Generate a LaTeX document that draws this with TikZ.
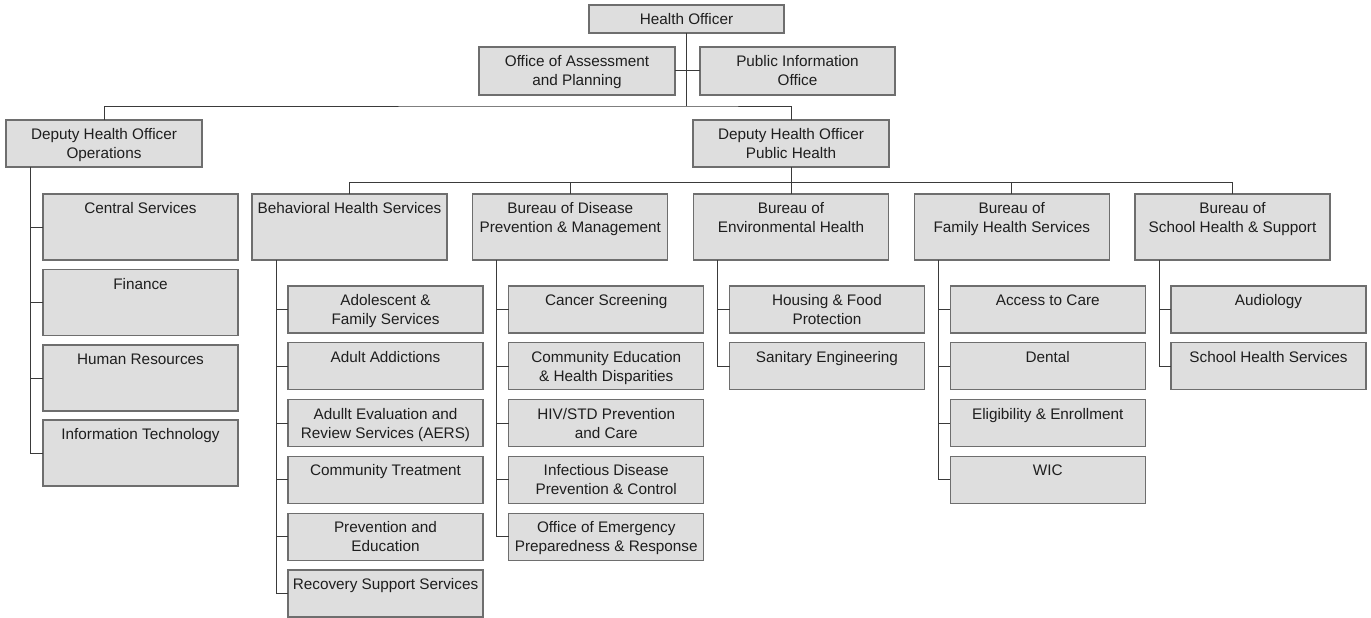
\documentclass[tikz,border=0pt]{standalone}
\usepackage{fontspec}
\setmainfont{Liberation Sans}
\usetikzlibrary{calc}
\definecolor{boxfill}{HTML}{DEDEDE}
\definecolor{boxline}{HTML}{6E6E6E}
\definecolor{conn}{HTML}{3A3A3A}
\definecolor{txt}{HTML}{1E1E1E}
\newcommand\bt[3]{\begin{minipage}[c][#2pt][t]{#1pt}\centering\rule{0pt}{19.5pt}#3\end{minipage}}
\begin{document}
\begin{tikzpicture}[x=1pt,y=-1pt,
  bx/.style={draw=boxline,fill=boxfill,line width=1.2pt,inner sep=0pt,outer sep=0pt,text=txt,font=\fontsize{15.3}{19}\selectfont},
  cn/.style={draw=conn,line width=1pt}]
\useasboundingbox (0,0) rectangle (1371,618);
% top
\node[bx] (ho) at (686.5,19) {\bt{195}{28}{Health Officer}};
\node[bx] (oap) at (577,71) {\bt{196}{48}{Office of Assessment\\and Planning}};
\node[bx] (pio) at (797.5,71) {\bt{195}{48}{Public Information\\Office}};
\node[bx] (dops) at (104,143.5) {\bt{196}{47}{Deputy Health Officer\\Operations}};
\node[bx] (dph) at (791,143.5) {\bt{196}{47}{Deputy Health Officer\\Public Health}};
\coordinate (j1) at (686.5,106);
\coordinate (j2) at (791,182);
\draw[cn] (ho.south) -- (j1);
\draw[cn] (oap.east) -- (pio.west);
\draw[cn] (dops.north) |- (j1) -| (dph.north);
\draw[cn] (dph.south) -- (j2);
% operations children
\foreach \n/\t/\y in {os1/Central Services/227, os2/Finance/302.5, os3/Human Resources/378, os4/Information Technology/453}{
  \node[bx] (\n) at (140.5,\y) {\bt{195}{66}{\t}};
  \draw[cn] ($(dops.south west)+(24,0)$) |- (\n.west);
}
% bureaus
\foreach \n/\x/\t in {b1/349.5/Behavioral Health Services, b2/570.25/Bureau of Disease\\Prevention \& Management, b3/791/Bureau of\\Environmental Health, b4/1011.75/Bureau of\\Family Health Services, b5/1232.5/Bureau of\\School Health \& Support}{
  \node[bx] (\n) at (\x,227) {\bt{195}{66}{\t}};
  \draw[cn] (\n.north) |- (j2);
}
% children
\foreach \b/\k/\t in {
  b1/0/Adolescent \&\\Family Services, b1/1/Adult Addictions, b1/2/Adullt Evaluation and\\Review Services (AERS), b1/3/Community Treatment, b1/4/Prevention and\\Education, b1/5/Recovery Support Services,
  b2/0/Cancer Screening, b2/1/Community Education\\\& Health Disparities, b2/2/{HIV/STD Prevention\\and Care}, b2/3/Infectious Disease\\Prevention \& Control, b2/4/Office of Emergency\\Preparedness \& Response,
  b3/0/Housing \& Food\\Protection, b3/1/Sanitary Engineering,
  b4/0/Access to Care, b4/1/Dental, b4/2/Eligibility \& Enrollment, b4/3/WIC,
  b5/0/Audiology, b5/1/School Health Services}{
  \node[bx,anchor=north west] (\b c\k) at ($(\b.south west)+(36,26+56.8*\k)$) {\bt{195}{47}{\t}};
  \draw[cn] ($(\b.south west)+(24,0)$) |- (\b c\k.west);
}
\end{tikzpicture}
\end{document}
